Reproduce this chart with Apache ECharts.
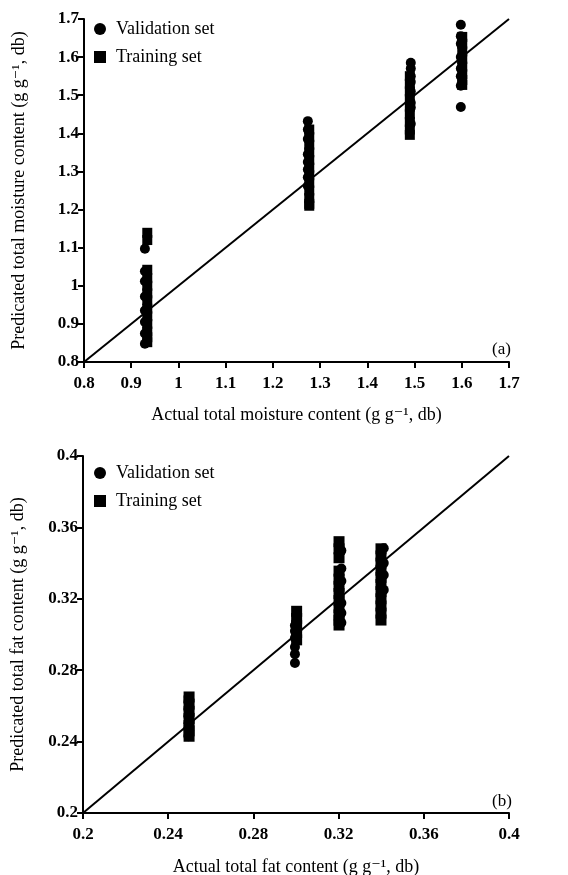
<!DOCTYPE html>
<html>
<head>
<meta charset="utf-8">
<script src="https://cdn.jsdelivr.net/npm/echarts@6/dist/echarts.min.js"></script>
<style>
  html, body { margin: 0; padding: 0; background: #fff; }
  #chart { width: 568px; height: 875px; }
</style>
</head>
<body>
<div id="chart"></div>
<script>
// (a) 水分含量：实测值与各组预测值
const moistureActualValid = [0.929, 1.274, 1.492, 1.598];
const moistureActualTrain = [0.934, 1.277, 1.490, 1.601];
const moistureValid = [
    [1.097, 1.038, 1.012, 0.972, 0.935, 0.905, 0.875, 0.848],
    [1.432, 1.41, 1.385, 1.345, 1.325, 1.305, 1.285, 1.262],
    [1.585, 1.57, 1.55, 1.535, 1.51, 1.48, 1.468, 1.425],
    [1.685, 1.655, 1.635, 1.60, 1.57, 1.55, 1.525, 1.469]
];
const moistureTrain = [
    [1.139, 1.12, 1.042, 1.02, 1.0, 0.98, 0.962, 0.94, 0.92, 0.9, 0.88, 0.865, 0.852],
    [1.41, 1.39, 1.37, 1.35, 1.33, 1.31, 1.29, 1.27, 1.25, 1.23, 1.215, 1.21],
    [1.55, 1.53, 1.51, 1.49, 1.47, 1.45, 1.43, 1.41, 1.396],
    [1.653, 1.635, 1.615, 1.595, 1.575, 1.555, 1.54, 1.527]
];

// (b) 脂肪含量
const fatActualValid = [0.2495, 0.2995, 0.3213, 0.3412];
const fatActualTrain = [0.2498, 0.3003, 0.3202, 0.3399];
const fatValid = [
    [0.265, 0.262, 0.258, 0.254, 0.25, 0.247, 0.243],
    [0.305, 0.302, 0.298, 0.293, 0.289, 0.284],
    [0.347, 0.337, 0.33, 0.3176, 0.312, 0.3066],
    [0.3483, 0.340, 0.3333, 0.325]
];
const fatTrain = [
    [0.265, 0.261, 0.257, 0.253, 0.249, 0.246, 0.243],
    [0.313, 0.309, 0.305, 0.301, 0.297],
    [0.352, 0.348, 0.343, 0.3355, 0.331, 0.327, 0.323, 0.319, 0.315, 0.311, 0.308, 0.3053],
    [0.348, 0.344, 0.34, 0.336, 0.332, 0.328, 0.324, 0.32, 0.316, 0.312, 0.3081]
];

const moistureTicks = [0.8, 1.7, 0.1];
const fatTicks = [0.2, 0.4, 0.04];

const FONT = '"Liberation Serif", "DejaVu Serif", serif';

// 把分组数据展开成 [x, y]
function toPoints(xs, groups) {
    const pts = [];
    for (let i = 0; i < groups.length; i++) {
        for (let j = 0; j < groups[i].length; j++) {
            pts.push([xs[i], groups[i][j]]);
        }
    }
    return pts;
}

function makeXAxis(gridIndex, ticks, name, gap) {
    return {
        gridIndex: gridIndex,
        type: 'value',
        min: ticks[0],
        max: ticks[1],
        interval: ticks[2],
        name: name,
        nameLocation: 'middle',
        nameGap: gap,
        nameTextStyle: { color: '#000', fontFamily: FONT, fontSize: 18 },
        axisLine: { lineStyle: { color: '#000', width: 2 } },
        axisTick: { show: true, length: 6, lineStyle: { color: '#000', width: 2 } },
        axisLabel: { color: '#000', fontFamily: FONT, fontSize: 17, fontWeight: 'bold', margin: 13 },
        splitLine: { show: false }
    };
}

function makeYAxis(gridIndex, ticks, name) {
    return {
        gridIndex: gridIndex,
        type: 'value',
        min: ticks[0],
        max: ticks[1],
        interval: ticks[2],
        name: name,
        nameLocation: 'middle',
        nameGap: 56,
        nameTextStyle: { color: '#000', fontFamily: FONT, fontSize: 18 },
        axisLine: { show: true, lineStyle: { color: '#000', width: 2 } },
        axisTick: { show: true, length: 6, lineStyle: { color: '#000', width: 2 } },
        axisLabel: { color: '#000', fontFamily: FONT, fontSize: 17, fontWeight: 'bold', margin: 5 },
        splitLine: { show: false }
    };
}

function makeLegend(top) {
    return {
        data: [
            { name: 'Validation set', icon: 'circle' },
            { name: 'Training set', icon: 'rect' }
        ],
        orient: 'vertical',
        left: 89,
        top: top,
        itemWidth: 12,
        itemHeight: 12,
        itemGap: 10,
        selectedMode: false,
        textStyle: { color: '#000', fontFamily: FONT, fontSize: 18, padding: [0, 0, 0, 5] }
    };
}

const chart = echarts.init(document.getElementById('chart'));

const dot = { color: '#000', opacity: 1 };

const option = {
    backgroundColor: '#fff',
    animation: false,
    legend: [makeLegend(15), makeLegend(459)],
    grid: [
        { left: 84, top: 19, width: 425, height: 343, outerBoundsMode: 'none' },
        { left: 83, top: 456, width: 426, height: 357, outerBoundsMode: 'none' }
    ],
    xAxis: [
        makeXAxis(0, moistureTicks, 'Actual total moisture content (g g\u207B\u00B9, db)', 44),
        makeXAxis(1, fatTicks, 'Actual total fat content (g g\u207B\u00B9, db)', 45)
    ],
    yAxis: [
        makeYAxis(0, moistureTicks, 'Predicated total moisture content (g g\u207B\u00B9, db)'),
        makeYAxis(1, fatTicks, 'Predicated total fat content (g g\u207B\u00B9, db)')
    ],
    graphic: [
        { type: 'text', left: 492, top: 341, style: { text: '(a)', font: '17px ' + FONT, fill: '#000' } },
        { type: 'text', left: 492, top: 793, style: { text: '(b)', font: '17px ' + FONT, fill: '#000' } }
    ],
    series: [
        {
            name: 'Training set', type: 'scatter', xAxisIndex: 0, yAxisIndex: 0,
            symbol: 'rect', symbolSize: 10, itemStyle: dot,
            data: toPoints(moistureActualTrain, moistureTrain)
        },
        {
            name: 'Validation set', type: 'scatter', xAxisIndex: 0, yAxisIndex: 0,
            symbol: 'circle', symbolSize: 10, itemStyle: dot,
            data: toPoints(moistureActualValid, moistureValid)
        },
        {
            name: '1:1', type: 'line', xAxisIndex: 0, yAxisIndex: 0,
            showSymbol: false, lineStyle: { color: '#000', width: 2 },
            data: [[moistureTicks[0], moistureTicks[0]], [moistureTicks[1], moistureTicks[1]]]
        },
        {
            name: 'Training set', type: 'scatter', xAxisIndex: 1, yAxisIndex: 1,
            symbol: 'rect', symbolSize: 11, itemStyle: dot,
            data: toPoints(fatActualTrain, fatTrain)
        },
        {
            name: 'Validation set', type: 'scatter', xAxisIndex: 1, yAxisIndex: 1,
            symbol: 'circle', symbolSize: 10, itemStyle: dot,
            data: toPoints(fatActualValid, fatValid)
        },
        {
            name: '1:1', type: 'line', xAxisIndex: 1, yAxisIndex: 1,
            showSymbol: false, lineStyle: { color: '#000', width: 2 },
            data: [[fatTicks[0], fatTicks[0]], [fatTicks[1], fatTicks[1]]]
        }
    ]
};

chart.setOption(option);
</script>
</body>
</html>
